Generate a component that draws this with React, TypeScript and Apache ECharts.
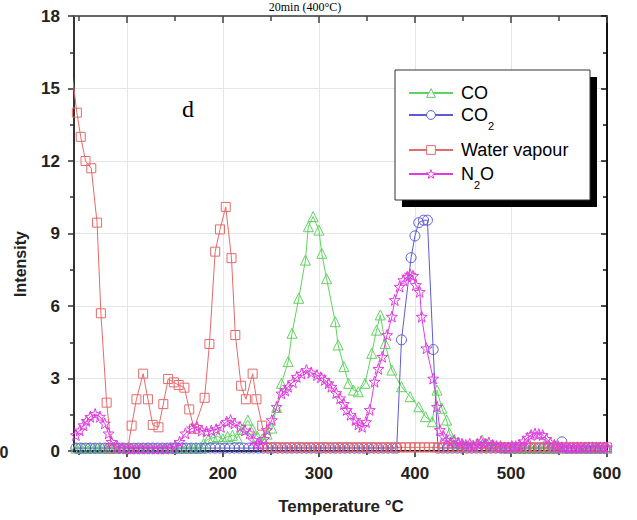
import React, { useEffect, useRef } from 'react';
import * as echarts from 'echarts';

// ---- axis ticks ----
const xMajorTicks = [100, 200, 300, 400, 500, 600];
const xMinorTicks = [50, 150, 250, 350, 450, 550];

// ---- series names ----
const seriesNames = ['CO', 'CO2', 'Water vapour', 'N2O'];

// ---- data: [temperature °C, intensity] ----
const coData: number[][] = [
  [47, 0.12], [52, 0.12], [57, 0.12], [62, 0.12], [67, 0.12], [72, 0.12], [77, 0.12], [82, 0.12], [87, 0.12],
  [92, 0.12], [97, 0.12], [102, 0.12], [107, 0.12], [112, 0.12], [117, 0.12], [122, 0.12], [127, 0.12],
  [132, 0.12], [137, 0.12], [142, 0.12], [147, 0.12], [152, 0.12], [157, 0.12], [162, 0.12], [167, 0.12],
  [172, 0.12], [177, 0.12], [180, 0.3], [185, 0.5], [190, 0.55], [195, 0.6], [200, 0.5], [205, 0.6],
  [210, 0.65], [215, 0.55], [220, 0.9], [226, 1.28], [231, 0.9], [236, 0.6], [241, 0.5], [246, 0.7],
  [251, 0.95], [256, 1.8], [261, 2.8], [268, 3.7], [272, 4.87], [279, 6.32], [286, 7.9], [289, 9.28],
  [294, 9.7], [300, 9.14], [303, 8.18], [308, 7.13], [317, 5.35], [320, 4.39], [326, 3.49], [331, 2.8],
  [336, 2.52], [341, 2.45], [348, 2.8], [355, 4.04], [360, 5.0], [364, 5.63], [369, 4.45], [376, 3.35],
  [386, 2.66], [395, 2.25], [404, 1.83], [411, 1.42], [418, 1.21], [423, 2.52], [428, 1.77], [433, 1.28],
  [436, 0.73], [440, 0.45], [445, 0.3], [450, 0.25], [455, 0.2], [460, 0.25], [465, 0.3], [470, 0.45],
  [475, 0.3], [480, 0.25], [485, 0.2], [490, 0.15], [495, 0.12], [500, 0.12], [505, 0.12], [510, 0.12],
  [515, 0.12], [520, 0.12], [525, 0.12], [530, 0.12], [535, 0.12], [540, 0.12], [545, 0.12], [550, 0.12],
  [555, 0.12], [560, 0.12], [565, 0.12], [570, 0.12], [575, 0.12], [580, 0.12], [585, 0.12], [590, 0.12],
  [595, 0.12], [600, 0.12],
];

const co2Data: number[][] = [
  [47, 0.12], [52, 0.12], [57, 0.12], [62, 0.12], [67, 0.12], [72, 0.12], [77, 0.12], [82, 0.12], [87, 0.12],
  [92, 0.12], [97, 0.12], [102, 0.12], [107, 0.12], [112, 0.12], [117, 0.12], [122, 0.12], [127, 0.12],
  [132, 0.12], [137, 0.12], [142, 0.12], [147, 0.12], [152, 0.12], [157, 0.12], [162, 0.12], [167, 0.12],
  [172, 0.12], [177, 0.12], [182, 0.12], [187, 0.12], [192, 0.12], [197, 0.12], [202, 0.12], [207, 0.12],
  [212, 0.12], [217, 0.12], [222, 0.12], [227, 0.12], [232, 0.12], [237, 0.12], [242, 0.12], [247, 0.12],
  [252, 0.12], [257, 0.12], [262, 0.12], [267, 0.12], [272, 0.12], [277, 0.12], [282, 0.12], [287, 0.12],
  [292, 0.12], [297, 0.12], [302, 0.12], [307, 0.12], [312, 0.12], [317, 0.12], [322, 0.12], [327, 0.12],
  [332, 0.12], [337, 0.12], [342, 0.12], [347, 0.12], [352, 0.12], [357, 0.12], [362, 0.12], [367, 0.12],
  [372, 0.12], [377, 0.12], [381, 0.12], [386, 4.6], [396, 8.0], [400, 8.9], [404, 9.45], [409, 9.55],
  [413, 9.55], [419, 4.2], [424, 0.12], [429, 0.12], [434, 0.12], [439, 0.12], [444, 0.12], [449, 0.12],
  [454, 0.12], [459, 0.12], [464, 0.12], [469, 0.12], [474, 0.12], [479, 0.12], [484, 0.12], [489, 0.12],
  [494, 0.12], [499, 0.12], [504, 0.12], [509, 0.12], [514, 0.12], [519, 0.12], [524, 0.12], [529, 0.12],
  [534, 0.12], [539, 0.12], [544, 0.12], [549, 0.12], [553, 0.38], [558, 0.12], [563, 0.12], [568, 0.12],
  [573, 0.12], [578, 0.12], [583, 0.12], [588, 0.12], [593, 0.12], [598, 0.12],
];

const waterData: number[][] = [
  [43, 15.6], [48, 14.0], [52, 13.0], [57, 12.0], [63, 11.7], [69, 9.45], [73, 5.7], [79, 2.0], [84, 0.1],
  [101, 0.1], [105, 1.05], [110, 2.14], [117, 3.2], [122, 2.14], [127, 1.08], [133, 0.98], [138, 1.94],
  [143, 2.98], [149, 2.84], [154, 2.73], [160, 2.62], [165, 1.72], [170, 0.92], [181, 2.2], [186, 4.43],
  [192, 8.25], [197, 9.17], [203, 10.1], [209, 7.98], [213, 4.8], [219, 2.7], [224, 2.14], [231, 3.2],
  [235, 2.14], [241, 1.05], [246, 0.15], [250, 0.15], [255, 0.15], [260, 0.15], [265, 0.15], [270, 0.15],
  [275, 0.15], [280, 0.15], [285, 0.15], [290, 0.15], [295, 0.15], [300, 0.15], [305, 0.15], [310, 0.15],
  [315, 0.15], [320, 0.15], [325, 0.15], [330, 0.15], [335, 0.15], [340, 0.15], [345, 0.15], [350, 0.15],
  [355, 0.15], [360, 0.15], [365, 0.15], [370, 0.15], [375, 0.15], [380, 0.15], [385, 0.15], [390, 0.15],
  [395, 0.15], [400, 0.15], [405, 0.15], [410, 0.15], [415, 0.15], [420, 0.15], [425, 0.15], [430, 0.15],
  [435, 0.15], [440, 0.15], [445, 0.15], [450, 0.15], [455, 0.15], [460, 0.15], [465, 0.15], [470, 0.15],
  [475, 0.15], [480, 0.15], [485, 0.15], [490, 0.15], [495, 0.15], [500, 0.15], [505, 0.15], [510, 0.15],
  [515, 0.15], [520, 0.15], [525, 0.15], [530, 0.15], [535, 0.15], [540, 0.15], [545, 0.15], [550, 0.15],
  [555, 0.15], [560, 0.15], [565, 0.15], [570, 0.15], [575, 0.15], [580, 0.15], [585, 0.15], [590, 0.15],
  [595, 0.15], [600, 0.15],
];

const n2oData: number[][] = [
  [47, 0.66], [51, 0.85], [55, 1.07], [58, 1.25], [62, 1.42], [67, 1.53], [72, 1.42], [77, 1.14], [81, 0.73],
  [84, 0.38], [90, 0.2], [95, 0.12], [100, 0.1], [105, 0.1], [110, 0.1], [115, 0.1], [120, 0.1], [125, 0.1],
  [130, 0.1], [135, 0.1], [140, 0.1], [145, 0.12], [150, 0.2], [155, 0.38], [161, 0.73], [168, 0.94],
  [173, 1.0], [178, 0.85], [183, 0.8], [188, 0.85], [193, 0.9], [198, 1.0], [204, 1.21], [208, 1.28],
  [212, 1.14], [218, 1.0], [223, 0.85], [228, 0.73], [232, 0.45], [236, 0.3], [239, 0.25], [243, 0.5],
  [246, 0.87], [251, 1.28], [256, 1.83], [261, 2.38], [265, 2.5], [268, 2.66], [273, 2.85], [277, 3.07],
  [282, 3.2], [287, 3.35], [292, 3.25], [298, 3.14], [302, 3.05], [306, 2.94], [310, 2.8], [313, 2.66],
  [318, 2.4], [322, 2.18], [326, 1.95], [329, 1.7], [333, 1.5], [338, 1.28], [341, 1.1], [345, 1.0],
  [349, 1.2], [353, 1.7], [358, 2.87], [362, 3.4], [366, 3.9], [371, 4.8], [376, 5.56], [379, 6.25],
  [384, 6.8], [388, 7.07], [392, 7.21], [395, 7.3], [398, 7.25], [401, 6.87], [405, 6.59], [407, 5.56],
  [412, 4.25], [419, 3.0], [423, 1.83], [426, 0.87], [430, 0.6], [433, 0.45], [437, 0.35], [441, 0.45],
  [445, 0.35], [449, 0.3], [453, 0.25], [457, 0.3], [461, 0.2], [465, 0.3], [469, 0.4], [473, 0.3],
  [477, 0.35], [481, 0.25], [485, 0.2], [489, 0.2], [493, 0.15], [497, 0.15], [501, 0.2], [505, 0.2],
  [509, 0.25], [513, 0.4], [517, 0.55], [521, 0.66], [525, 0.72], [529, 0.7], [533, 0.66], [537, 0.5],
  [541, 0.35], [545, 0.25], [549, 0.2], [553, 0.15], [557, 0.15], [561, 0.15], [565, 0.15], [569, 0.15],
  [573, 0.15], [577, 0.15], [581, 0.15], [585, 0.15], [589, 0.15], [593, 0.15], [597, 0.15], [600, 0.15],
];

const COLORS = {
  CO: '#5fd35f',
  CO2: '#5b5bd6',
  water: '#e66a6a',
  N2O: '#e03ce0',
};

const STAR =
  'path://M12,0 L14.9,8.1 L23.4,8.3 L16.6,13.5 L19.1,21.7 L12,16.8 L4.9,21.7 L7.4,13.5 L0.6,8.3 L9.1,8.1 Z';

const SANS = 'Liberation Sans, Arial, sans-serif';
const SERIF = 'Liberation Serif, Times New Roman, serif';

function makeSeries(name: string, data: number[][], color: string, symbol: string, size: number) {
  return {
    name,
    type: 'line',
    data,
    symbol,
    symbolSize: size,
    showAllSymbol: true,
    xAxisIndex: 0,
    yAxisIndex: 0,
    lineStyle: { color, width: 1 },
    itemStyle: { color: 'rgba(255,255,255,0)', borderColor: color, borderWidth: 1 },
    emphasis: { disabled: true },
  };
}

const legendRich = {
  sub: { fontSize: 11, lineHeight: 11, verticalAlign: 'bottom', fontFamily: SANS, color: '#000' },
};

function legendFor(name: string, top: number) {
  return {
    data: [name],
    orient: 'vertical',
    left: 408,
    top,
    padding: 0,
    itemWidth: 44,
    itemHeight: 11,
    selectedMode: false,
    z: 10,
    itemStyle: { color: '#fff', borderWidth: 1 },
    formatter: (n: string) =>
      n === 'CO2' ? 'CO{sub|2}' : n === 'N2O' ? 'N{sub|2}O' : n,
    textStyle: {
      fontSize: 18,
      lineHeight: 32,
      color: '#000',
      fontFamily: SANS,
      padding: [0, 0, 0, 3],
      rich: legendRich,
    },
  };
}

const xBase = { type: 'value', min: 45, max: 600, gridIndex: 0 };
const yBase = { type: 'value', min: 0, max: 18, interval: 3, gridIndex: 0 };

const option = {
  animation: false,
  backgroundColor: '#fff',
  grid: { left: 74, right: 30, top: 16, bottom: 69, containLabel: false },
  xAxis: [
    {
      ...xBase,
      position: 'bottom',
      axisLine: { show: true, onZero: false, lineStyle: { color: '#222', width: 2 } },
      axisTick: { show: true, customValues: xMajorTicks, length: 6, lineStyle: { color: '#222', width: 1.5 } },
      axisLabel: {
        show: true,
        customValues: xMajorTicks,
        fontSize: 17,
        fontWeight: 'bold',
        color: '#222',
        margin: 14,
        fontFamily: SANS,
      },
      splitLine: { show: true, lineStyle: { color: '#e6e6e6', width: 1 } },
    },
    {
      ...xBase,
      position: 'top',
      axisLine: { show: true, onZero: false, lineStyle: { color: '#666', width: 2 } },
      axisTick: { show: true, inside: true, customValues: xMajorTicks, length: 7, lineStyle: { color: '#444', width: 1.5 } },
      axisLabel: { show: false },
      splitLine: { show: false },
    },
    {
      ...xBase,
      position: 'bottom',
      axisLine: { show: false, onZero: false },
      axisTick: { show: true, customValues: xMinorTicks, length: 4, lineStyle: { color: '#222', width: 1.5 } },
      axisLabel: { show: false },
      splitLine: { show: false },
    },
    {
      ...xBase,
      position: 'top',
      axisLine: { show: false, onZero: false },
      axisTick: { show: true, inside: true, customValues: xMinorTicks, length: 5, lineStyle: { color: '#444', width: 1.5 } },
      axisLabel: { show: false },
      splitLine: { show: false },
    },
  ],
  yAxis: [
    {
      ...yBase,
      position: 'left',
      axisLine: { show: true, onZero: false, lineStyle: { color: '#333', width: 2 } },
      axisTick: { show: true, length: 6, lineStyle: { color: '#333', width: 1.5 } },
      minorTick: { show: true, splitNumber: 2, length: 4, lineStyle: { color: '#333', width: 1.5 } },
      axisLabel: {
        fontSize: 17,
        fontWeight: 'bold',
        color: '#222',
        margin: 14,
        fontFamily: SANS,
      },
      splitLine: { show: true, lineStyle: { color: '#e6e6e6', width: 1 } },
    },
    {
      ...yBase,
      position: 'right',
      axisLine: { show: true, onZero: false, lineStyle: { color: '#111', width: 2 } },
      axisTick: { show: true, inside: true, length: 6, lineStyle: { color: '#111', width: 1.5 } },
      minorTick: { show: true, splitNumber: 2, length: 4, lineStyle: { color: '#111', width: 1.5 } },
      axisLabel: { show: false },
      splitLine: { show: false },
    },
  ],
  legend: [
    legendFor('CO', 77),
    legendFor('CO2', 99),
    legendFor('Water vapour', 134),
    legendFor('N2O', 158),
  ],
  graphic: [
    {
      type: 'rect',
      z: 5,
      shape: { x: 402, y: 77, width: 195, height: 130 },
      style: { fill: '#000' },
    },
    {
      type: 'rect',
      z: 6,
      shape: { x: 395, y: 70, width: 195, height: 130 },
      style: { fill: '#fff', stroke: '#333', lineWidth: 1 },
    },
    {
      type: 'text',
      z: 6,
      x: 305,
      y: 7,
      style: {
        text: '20min (400°C)',
        font: `12px ${SERIF}`,
        fill: '#000',
        textAlign: 'center',
        textVerticalAlign: 'middle',
      },
    },
    {
      type: 'text',
      z: 6,
      x: 188,
      y: 109,
      style: {
        text: 'd',
        font: `24px ${SERIF}`,
        fill: '#000',
        textAlign: 'center',
        textVerticalAlign: 'middle',
      },
    },
    {
      type: 'text',
      z: 6,
      x: 20,
      y: 264,
      rotation: Math.PI / 2,
      style: {
        text: 'Intensity',
        font: `bold 16px ${SANS}`,
        fill: '#222',
        textAlign: 'center',
        textVerticalAlign: 'middle',
      },
    },
    {
      type: 'text',
      z: 6,
      x: 341,
      y: 506,
      style: {
        text: 'Temperature °C',
        font: `bold 17px ${SANS}`,
        fill: '#222',
        textAlign: 'center',
        textVerticalAlign: 'middle',
      },
    },
    {
      type: 'text',
      z: 6,
      x: 4,
      y: 452,
      style: {
        text: '0',
        font: `bold 16px ${SANS}`,
        fill: '#222',
        textAlign: 'center',
        textVerticalAlign: 'middle',
      },
    },
  ],
  series: [
    makeSeries(seriesNames[0], coData, COLORS.CO, 'triangle', 10),
    makeSeries(seriesNames[1], co2Data, COLORS.CO2, 'circle', 10),
    makeSeries(seriesNames[2], waterData, COLORS.water, 'rect', 9),
    makeSeries(seriesNames[3], n2oData, COLORS.N2O, STAR, 11),
  ],
};

export default function App() {
  const ref = useRef<HTMLDivElement>(null);
  useEffect(() => {
    const chart = echarts.init(ref.current as HTMLDivElement, null, { renderer: 'svg' });
    chart.setOption(option as any);
    return () => {
      chart.dispose();
    };
  }, []);
  return (
    <div
      ref={ref}
      style={{ position: 'fixed', left: 0, top: 0, width: 637, height: 520, background: '#fff' }}
    />
  );
}
